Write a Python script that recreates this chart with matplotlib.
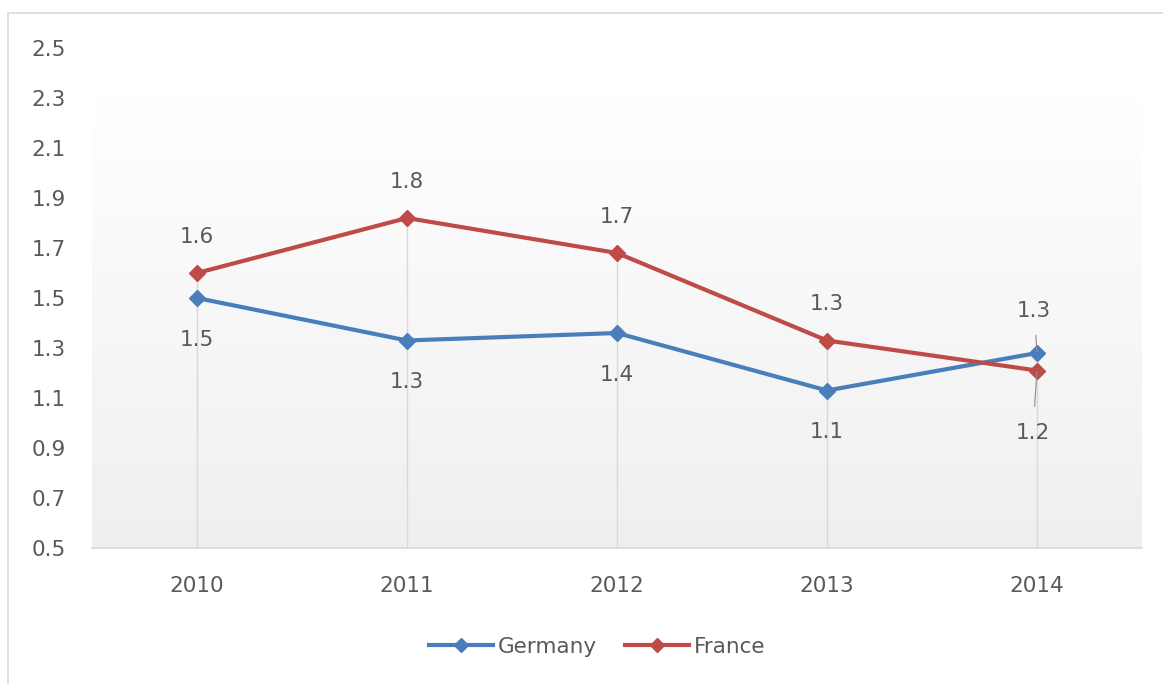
import numpy as np
import matplotlib

matplotlib.use("Agg")
import matplotlib.pyplot as plt
from matplotlib.colors import LinearSegmentedColormap
from matplotlib.patches import Rectangle

years = ["2010", "2011", "2012", "2013", "2014"]
germany = [1.50, 1.33, 1.36, 1.13, 1.28]
france = [1.60, 1.82, 1.68, 1.33, 1.21]
y_ticks = [0.5, 0.7, 0.9, 1.1, 1.3, 1.5, 1.7, 1.9, 2.1, 2.3, 2.5]

BLUE = "#4a7ebb"
RED = "#be4b48"
TEXT = "#595959"
GRID = "#d9d9d9"
FS = 15.5

plt.rcParams["font.family"] = ["DejaVu Sans"]

fig = plt.figure(figsize=(11.63, 6.84), dpi=100)
W, H = 1163, 684

# chart frame (only top/left edges fall inside the canvas)
fig.patches.append(Rectangle((8 / W, -0.1), 1.2, 1 - 13 / H + 0.1, transform=fig.transFigure,
                             fill=False, edgecolor="#d9d9d9", lw=1.2))

ax = fig.add_axes([92 / W, 1 - 548 / H, 1050 / W, 500 / H])
x = np.arange(len(years))
ax.set_xlim(-0.5, len(years) - 0.5)
ax.set_ylim(0.5, 2.5)

# plot-area gradient: white at the top fading to light grey
grad = np.linspace(0, 1, 256).reshape(-1, 1)
cmap = LinearSegmentedColormap.from_list("bg", [(0, "#ffffff"), (0.1, "#ffffff"), (1, "#efefef")])
ax.imshow(grad, extent=(-0.5, len(years) - 0.5, 0.5, 2.5), aspect="auto",
          cmap=cmap, zorder=0, origin="upper")

# drop lines
tops = np.maximum(germany, france)
ax.vlines(x, 0.5, tops, color=GRID, lw=1, zorder=1)

ax.plot(x, germany, color=BLUE, lw=3, marker="D", ms=8.5, zorder=3, label="Germany")
ax.plot(x, france, color=RED, lw=3, marker="D", ms=8.5, zorder=3, label="France")

for i, (g, f) in enumerate(zip(germany, france)):
    if i == len(years) - 1:
        ax.annotate(f"{g:.1f}", (i, g), xytext=(-2, 30), textcoords="offset points",
                    ha="center", va="center", fontsize=FS, color=TEXT,
                    arrowprops=dict(arrowstyle="-", color="#8c8c8c", lw=0.8,
                                    shrinkA=8, shrinkB=1))
        ax.annotate(f"{f:.1f}", (i, f), xytext=(-3, -45), textcoords="offset points",
                    ha="center", va="center", fontsize=FS, color=TEXT,
                    arrowprops=dict(arrowstyle="-", color="#8c8c8c", lw=0.8,
                                    shrinkA=10, shrinkB=1))
    else:
        ax.annotate(f"{g:.1f}", (i, g), xytext=(0, -30), textcoords="offset points",
                    ha="center", va="center", fontsize=FS, color=TEXT)
        ax.annotate(f"{f:.1f}", (i, f), xytext=(0, 26), textcoords="offset points",
                    ha="center", va="center", fontsize=FS, color=TEXT)

ax.set_xticks(x)
ax.set_xticklabels(years)
ax.set_yticks(y_ticks)
ax.set_yticklabels([f"{v:.1f}" for v in y_ticks])
ax.tick_params(axis="both", length=0, labelsize=FS, labelcolor=TEXT)
ax.tick_params(axis="y", pad=19)
ax.tick_params(axis="x", pad=20)
for side in ["top", "right", "left"]:
    ax.spines[side].set_visible(False)
ax.spines["bottom"].set_color(GRID)
ax.spines["bottom"].set_linewidth(1.2)

fig.legend(loc="center", bbox_to_anchor=(597 / W, 1 - 647 / H), ncol=2, frameon=False,
           fontsize=FS, labelcolor=TEXT, handlelength=3.0, handletextpad=0.2,
           columnspacing=1.3, markerscale=0.85)

fig.savefig("out.png", dpi=100, facecolor="white")
